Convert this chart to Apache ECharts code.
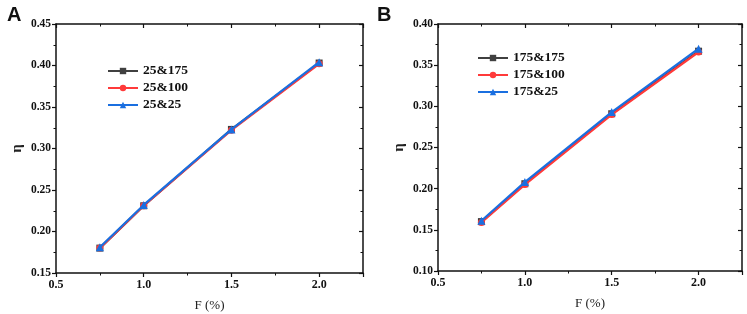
<!DOCTYPE html>
<html>
<head>
<meta charset="utf-8">
<script src="https://cdn.jsdelivr.net/npm/echarts@6/dist/echarts.min.js"></script>
<style>
html,body{margin:0;padding:0;background:#fff;}
#chart{width:747px;height:314px;}
</style>
</head>
<body>
<div id="chart"></div>
<script>
// data
var fValues = [0.75, 1.0, 1.5, 2.0];
var namesA = ['25&175', '25&100', '25&25'];
var a175 = [0.180, 0.231, 0.323, 0.403];
var a100 = [0.180, 0.231, 0.322, 0.402];
var a25  = [0.181, 0.232, 0.323, 0.404];
var namesB = ['175&175', '175&100', '175&25'];
var b175 = [0.160, 0.206, 0.291, 0.367];
var b100 = [0.159, 0.205, 0.290, 0.366];
var b25  = [0.161, 0.208, 0.293, 0.370];

var colors = ['#404040', '#ff3a3a', '#1a6fe0'];
var symbols = ['rect', 'circle', 'triangle'];
var serif = '"Liberation Serif", "DejaVu Serif", serif';

function pairs(ys){
	var out = [];
	for(var i=0;i<fValues.length;i++){
		out.push([fValues[i], ys[i]]);
	}
	return out;
}

function mkSeries(name, ys, k, axisIdx){
	return {
		name: name,
		type: 'line',
		xAxisIndex: axisIdx,
		yAxisIndex: axisIdx,
		data: pairs(ys),
		symbol: symbols[k],
		symbolSize: k==2 ? 8 : 7,
		lineStyle: {color: colors[k], width: 2.2},
		itemStyle: {color: colors[k]},
		z: 2 + k
	};
}

function xAx(grid, top){
	return {
		type: 'value', gridIndex: grid, min: 0.5, max: 2.25, interval: 0.5,
		position: top ? 'top' : 'bottom',
		name: top ? '' : 'F (%)', nameLocation: 'middle', nameGap: 26,
		nameTextStyle: {fontFamily: serif, fontSize: 13, color: '#222'},
		axisLine: {show: true, onZero: false, lineStyle: {color: '#111', width: 1.5}},
		axisTick: {show: true, inside: top, length: 4, lineStyle: {color: '#111', width: 1.2}},
		minorTick: {show: true, splitNumber: 2, length: 2.5, lineStyle: {color: '#111', width: 1}},
		axisLabel: {show: !top, showMaxLabel: false, fontFamily: serif, fontWeight: 'bold', fontSize: 12, color: '#111', margin: 6,
			formatter: function(v){ return v.toFixed(1); }},
		splitLine: {show: false}
	};
}

function yAx(grid, right, lo, hi){
	return {
		type: 'value', gridIndex: grid, min: lo, max: hi, interval: 0.05,
		position: right ? 'right' : 'left',
		name: right ? '' : 'η', nameLocation: 'middle', nameGap: 31, nameRotate: 90,
		nameTextStyle: {fontFamily: serif, fontSize: 15, fontWeight: 'bold', color: '#222'},
		axisLine: {show: true, onZero: false, lineStyle: {color: '#111', width: 1.5}},
		axisTick: {show: true, inside: right, length: 4, lineStyle: {color: '#111', width: 1.2}},
		minorTick: {show: true, splitNumber: 2, length: 2.5, lineStyle: {color: '#111', width: 1}},
		axisLabel: {show: !right, fontFamily: serif, fontWeight: 'bold', fontSize: 11.5, color: '#111', margin: 5,
			formatter: function(v){ return v.toFixed(2); }},
		splitLine: {show: false}
	};
}

var option = {
	animation: false,
	backgroundColor: '#fff',
	title: [
		{text: 'A', left: 2, top: 0, textStyle: {fontFamily: '"Liberation Sans", Arial, sans-serif', fontWeight: 'bold', fontSize: 20, color: '#111'}},
		{text: 'B', left: 372, top: 0, textStyle: {fontFamily: '"Liberation Sans", Arial, sans-serif', fontWeight: 'bold', fontSize: 20, color: '#111'}}
	],
	legend: [
		{data: namesA, orient: 'vertical', left: 102, top: 59, itemGap: 3, itemWidth: 30, itemHeight: 8,
			textStyle: {fontFamily: serif, fontWeight: 'bold', fontSize: 13.5, color: '#111'}},
		{data: namesB, orient: 'vertical', left: 472, top: 46, itemGap: 3, itemWidth: 30, itemHeight: 8,
			textStyle: {fontFamily: serif, fontWeight: 'bold', fontSize: 13.5, color: '#111'}}
	],
	grid: [
		{left: 56, top: 24, width: 307, height: 249, outerBoundsMode: 'none'},
		{left: 438, top: 24, width: 304, height: 247, outerBoundsMode: 'none'}
	],
	xAxis: [xAx(0, false), xAx(0, true), xAx(1, false), xAx(1, true)],
	yAxis: [yAx(0, false, 0.15, 0.45), yAx(0, true, 0.15, 0.45), yAx(1, false, 0.10, 0.40), yAx(1, true, 0.10, 0.40)],
	series: [
		mkSeries(namesA[0], a175, 0, 0),
		mkSeries(namesA[1], a100, 1, 0),
		mkSeries(namesA[2], a25, 2, 0),
		mkSeries(namesB[0], b175, 0, 2),
		mkSeries(namesB[1], b100, 1, 2),
		mkSeries(namesB[2], b25, 2, 2)
	]
};

var myChart = echarts.init(document.getElementById('chart'));
myChart.setOption(option);
</script>
</body>
</html>
